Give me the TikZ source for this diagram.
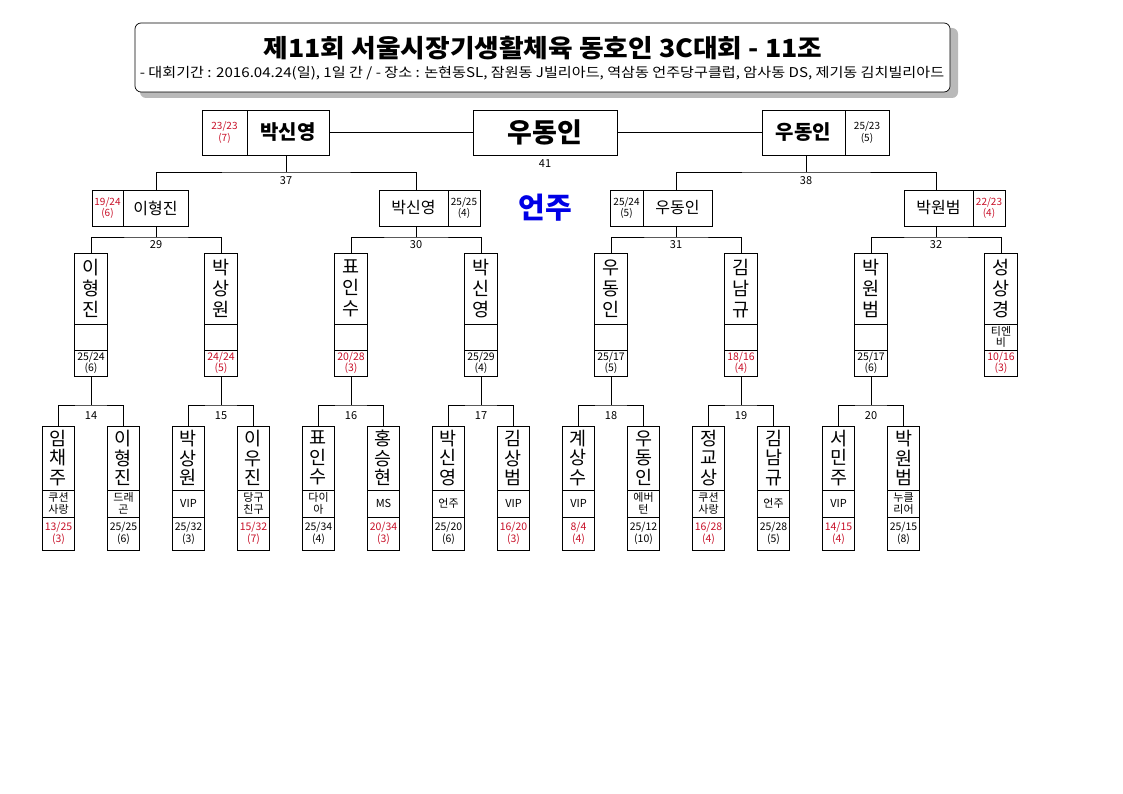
\documentclass[tikz,border=0pt]{standalone}
\usepackage{fontspec}
\setmainfont{Noto Sans CJK KR}
\usetikzlibrary{calc}
\definecolor{lossred}{RGB}{200,16,40}
\definecolor{ujblue}{RGB}{0,0,230}
\definecolor{shadowgray}{RGB}{185,185,185}
\tikzset{
  box/.style={draw, line width=0.9pt, inner sep=0pt, outer sep=0pt, align=center},
  n4/.style={box, anchor=north, minimum width=32pt, minimum height=64pt, font=\fontsize{18.5}{19.5}\selectfont},
  c4/.style={box, anchor=north, minimum width=32pt, minimum height=27pt, font=\fontsize{11}{11.5}\selectfont},
  s4/.style={box, anchor=north, minimum width=32pt, minimum height=33pt, font=\fontsize{10.5}{12}\selectfont},
  n3/.style={box, anchor=north, minimum width=33pt, minimum height=71pt, font=\fontsize{18.5}{21}\selectfont},
  c3/.style={box, anchor=north, minimum width=33pt, minimum height=26pt, font=\fontsize{11}{11.5}\selectfont},
  s3/.style={box, anchor=north, minimum width=33pt, minimum height=26pt, font=\fontsize{10.5}{11.5}\selectfont},
  n2/.style={box, anchor=north west, minimum height=36pt, font=\fontsize{16}{18}\selectfont},
  sc2/.style={box, anchor=north west, minimum height=36pt, font=\fontsize{10}{11.5}\selectfont},
  n1/.style={box, anchor=north west, minimum height=45pt, font=\bfseries\fontsize{20}{22}\selectfont},
  sc1/.style={box, anchor=north west, minimum height=45pt, font=\fontsize{10}{11.5}\selectfont},
  numlab/.style={inner sep=0pt, font=\fontsize{11}{12}\selectfont},
  link/.style={line width=0.9pt},
}
\newcommand\pfour[6]{%
  \node[n4] (#1) at (#2,426) {#3};
  \node[c4] (#1c) at (#1.south) {#4};
  \node[s4, text=#6] (#1s) at (#1c.south) {#5};}
\newcommand\pthree[6]{%
  \node[n3] (#1) at (#2,253) {#3};
  \node[c3] (#1c) at (#1.south) {#4};
  \node[s3, text=#6] (#1s) at (#1c.south) {#5};}
\begin{document}
\begin{tikzpicture}[x=1pt,y=-1pt]
\useasboundingbox (0,0) rectangle (1123,794);
\fill[white] (0,0) rectangle (1123,794);

% title
\fill[shadowgray, rounded corners=6pt] (140,28) rectangle (958,98);
\draw[line width=0.7pt, fill=white, rounded corners=6pt] (135,23) rectangle (950,92);
\node[font=\bfseries\fontsize{25}{28}\selectfont] (title) at (543,48) {\scalebox{1.07}[1]{제11회 서울시장기생활체육 동호인 3C대회 - 11조}};
\node[font=\fontsize{13.5}{15}\selectfont] (sub) at (542,73) {\scalebox{1.12}[1]{- 대회기간 : 2016.04.24(일), 1일 간 / - 장소 : 논현동SL, 잠원동 J빌리아드, 역삼동 언주당구클럽, 암사동 DS, 제기동 김치빌리아드}};

% row 4
\pfour{a1}{58.5}{임\\채\\주}{쿠션\\사랑}{13/25\\(3)}{lossred}
\pfour{a2}{123.5}{이\\형\\진}{드래\\곤}{25/25\\(6)}{black}
\pfour{a3}{188.5}{박\\상\\원}{VIP}{25/32\\(3)}{black}
\pfour{a4}{253.5}{이\\우\\진}{당구\\친구}{15/32\\(7)}{lossred}
\pfour{a5}{318.5}{표\\인\\수}{다이\\아}{25/34\\(4)}{black}
\pfour{a6}{383.5}{홍\\승\\현}{MS}{20/34\\(3)}{lossred}
\pfour{a7}{448.5}{박\\신\\영}{언주}{25/20\\(6)}{black}
\pfour{a8}{513.5}{김\\상\\범}{VIP}{16/20\\(3)}{lossred}
\pfour{a9}{578.5}{계\\상\\수}{VIP}{8/4\\(4)}{lossred}
\pfour{a10}{643.5}{우\\동\\인}{에버\\턴}{25/12\\(10)}{black}
\pfour{a11}{708.5}{정\\교\\상}{쿠션\\사랑}{16/28\\(4)}{lossred}
\pfour{a12}{773.5}{김\\남\\규}{언주}{25/28\\(5)}{black}
\pfour{a13}{838.5}{서\\민\\주}{VIP}{14/15\\(4)}{lossred}
\pfour{a14}{903.5}{박\\원\\범}{누클\\리어}{25/15\\(8)}{black}

% row 3
\pthree{b1}{91}{이\\형\\진}{}{25/24\\(6)}{black}
\pthree{b2}{221}{박\\상\\원}{}{24/24\\(5)}{lossred}
\pthree{b3}{351}{표\\인\\수}{}{20/28\\(3)}{lossred}
\pthree{b4}{481}{박\\신\\영}{}{25/29\\(4)}{black}
\pthree{b5}{611}{우\\동\\인}{}{25/17\\(5)}{black}
\pthree{b6}{741}{김\\남\\규}{}{18/16\\(4)}{lossred}
\pthree{b7}{871}{박\\원\\범}{}{25/17\\(6)}{black}
\pthree{b8}{1001}{성\\상\\경}{티엔\\비}{10/16\\(3)}{lossred}

% brackets row 4 -> row 3
\foreach \l/\r/\b/\num in {a1/a2/b1/14, a3/a4/b2/15, a5/a6/b3/16, a7/a8/b4/17, a9/a10/b5/18, a11/a12/b6/19, a13/a14/b7/20}{
  \coordinate (j\num) at ($(\l.north)!0.5!(\r.north)+(0,-21)$);
  \draw[link] (\l.north) |- (j\num) -| (\r.north);
  \draw[link] (j\num) -- (\b s.south);
  \node[numlab] (l\num) at ($(j\num)+(0,11)$) {\num};
}

% row 2
\node[sc2, minimum width=31pt, text=lossred] (c1s) at (92,190) {19/24\\(6)};
\node[n2, minimum width=65pt] (c1) at (c1s.north east) {이형진};
\node[n2, minimum width=69pt] (c2) at (379,190) {박신영};
\node[sc2, minimum width=32pt] (c2s) at (c2.north east) {25/25\\(4)};
\node[sc2, minimum width=33pt] (c3s) at (610,190) {25/24\\(5)};
\node[n2, minimum width=69pt] (c3) at (c3s.north east) {우동인};
\node[n2, minimum width=69pt] (c4) at (904,190) {박원범};
\node[sc2, minimum width=32pt, text=lossred] (c4s) at (c4.north east) {22/23\\(4)};

% brackets row 3 -> row 2
\foreach \l/\r/\p/\num in {b1/b2/c1/29, b3/b4/c2/30, b5/b6/c3/31, b7/b8/c4/32}{
  \coordinate (j\num) at ($(\l.north)!0.5!(\r.north)+(0,-16)$);
  \draw[link] (\l.north) |- (j\num) -| (\r.north);
  \draw[link] (j\num) -- (j\num |- \p.south);
  \node[numlab] (l\num) at ($(j\num)+(0,7.5)$) {\num};
}

% row 1
\node[sc1, minimum width=45pt, text=lossred] (d1s) at (202,110) {23/23\\(7)};
\node[n1, minimum width=82pt] (d1) at (d1s.north east) {박신영};
\node[box, anchor=north west, minimum width=144pt, minimum height=45pt, font=\bfseries\fontsize{27}{30}\selectfont] (win) at (473,110) {우동인};
\node[n1, minimum width=83pt] (d2) at (762,110) {우동인};
\node[sc1, minimum width=44pt] (d2s) at (d2.north east) {25/23\\(5)};

\draw[link] (d1.east) -- (win.west);
\draw[link] (win.east) -- (d2.west);
\node[numlab] (l41) at ($(win.south)+(0,9)$) {41};

% brackets row 2 -> row 1
\coordinate (j37) at ($(j29 |- c1.north)!0.5!(j30 |- c2.north)+(0,-18)$);
\draw[link] (j29 |- c1.north) |- (j37) -| (j30 |- c2.north);
\draw[link] (j37) -- (j37 |- d1.south);
\node[numlab] (l37) at ($(j37)+(0,9)$) {37};
\coordinate (j38) at ($(j31 |- c3.north)!0.5!(j32 |- c4.north)+(0,-18)$);
\draw[link] (j31 |- c3.north) |- (j38) -| (j32 |- c4.north);
\draw[link] (j38) -- (j38 |- d2.south);
\node[numlab] (l38) at ($(j38)+(0,9)$) {38};

% venue
\node[text=ujblue, font=\bfseries\fontsize{29}{32}\selectfont] (venue) at (545,208) {언주};
\end{tikzpicture}
\end{document}
